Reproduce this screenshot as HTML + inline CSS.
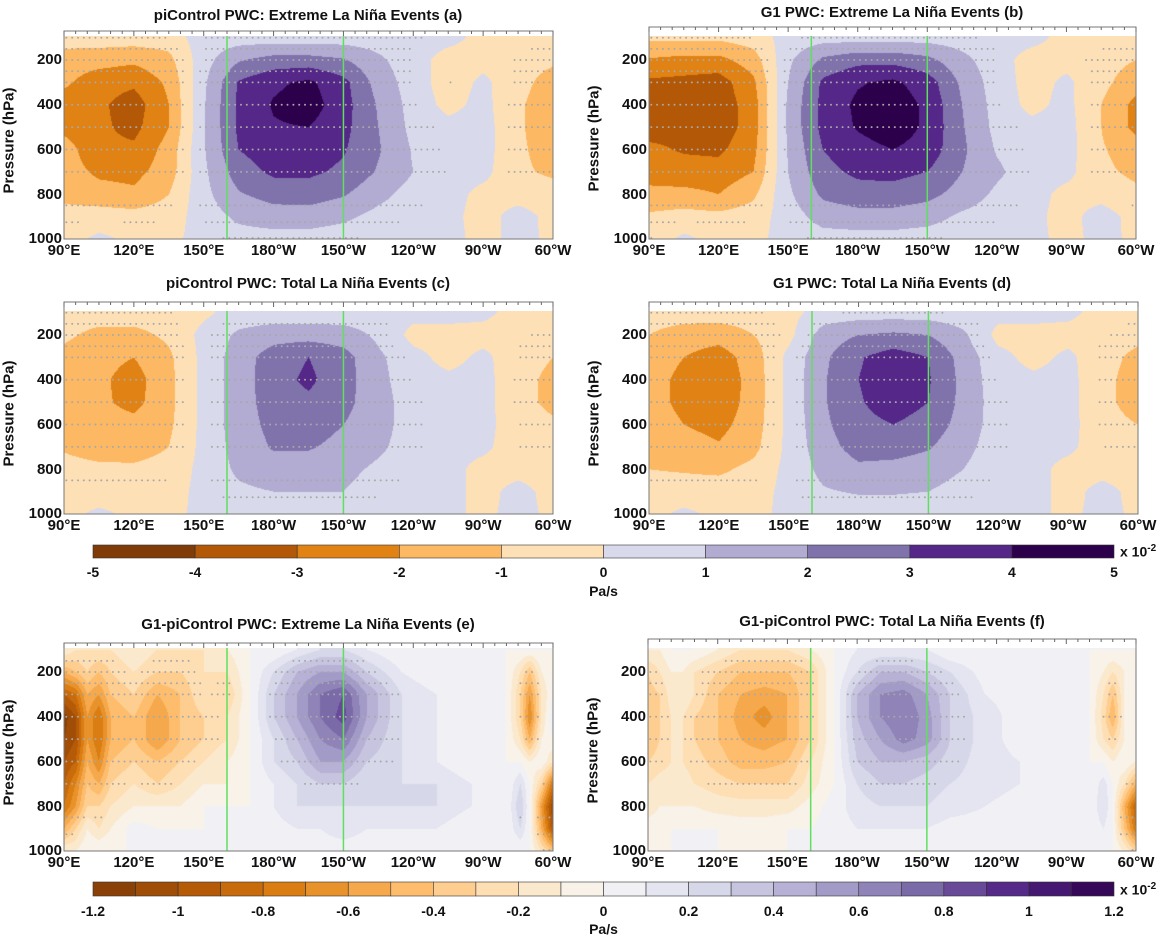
<!DOCTYPE html>
<html><head><meta charset="utf-8">
<style>
html,body{margin:0;padding:0;background:#fff;}
#root{position:relative;width:1172px;height:936px;overflow:hidden;font-family:"Liberation Sans",Arial,sans-serif;font-weight:bold;color:#111;}
.t{position:absolute;white-space:nowrap;}
canvas{position:absolute;}
svg{position:absolute;left:0;top:0;}
</style></head>
<body>
<div id="root">
<svg id="ov" width="1172" height="936"></svg>
</div>
<script>
// ---------- data ----------
const lonsTop = [90,105,120,135,150,165,180,195,210,225,240,255,270,285,300];
const lonsBot = [90,95,100,105,110,120,130,140,150,160,170,180,190,200,210,220,235,250,265,280,286,290,295,300];
const pLevels = [100,200,300,400,500,600,700,800,900,1000];
const xTickLons = [90,120,150,180,210,240,270,300];
const xTickLabels = ["90°E","120°E","150°E","180°W","150°W","120°W","90°W","60°W"];
const yTickVals = [200,400,600,800,1000];
const greenLons = [160,210];
const levelsTop = [-5,-4,-3,-2,-1,0,1,2,3,4,5];
const levelsBotLabels = [-1.2,-1,-0.8,-0.6,-0.4,-0.2,0,0.2,0.4,0.6,0.8,1,1.2];

const valsA = [
[-0.5,-0.5,-0.5,-0.5,0.5,0.5,0.5,0.5,0.5,0.5,0.5,0.3,-0.3,-0.3,-0.3],
[-1.5,-1.6,-1.8,-1.3,0.6,1.9,2.4,2.4,2.1,1.2,0.4,-0.4,-0.3,-0.5,-0.8],
[-1.8,-2.6,-2.8,-1.8,0.8,3.1,3.8,4.2,3.3,1.6,0.5,-0.5,0.2,-0.6,-1.5],
[-2.5,-2.8,-3.5,-2.0,0.9,3.2,4.1,4.5,3.4,1.9,0.6,-0.3,0.3,-0.8,-1.8],
[-2.3,-2.8,-3.3,-2.0,0.9,3.2,3.9,4.0,3.3,2.0,0.7,0.3,0.4,-0.8,-1.8],
[-1.5,-2.8,-2.8,-1.6,0.9,3.0,3.6,3.6,3.1,2.1,0.9,0.4,0.4,-0.8,-1.5],
[-1.5,-2.2,-2.3,-1.5,0.8,2.5,3.2,3.2,2.8,1.9,1.0,0.4,0.3,-0.8,-1.2],
[-1.3,-1.6,-1.8,-1.0,0.7,1.9,2.4,2.5,2.1,1.3,0.6,0.4,-0.3,-0.4,-0.5],
[-0.6,-0.5,-0.6,-0.5,0.5,1.2,1.5,1.5,1.2,0.7,0.4,0.3,-0.4,0.4,-0.3],
[-0.4,0.2,-0.2,-0.2,0.3,0.6,0.6,0.6,0.5,0.4,0.3,0.3,-0.3,0.3,-0.2]];
const valsB = [
[-0.8,-0.8,-0.8,-0.5,0.4,0.6,0.6,0.6,0.6,0.5,0.4,0.3,-0.3,-0.3,-0.3],
[-2.1,-2.3,-2.3,-1.5,0.8,2.2,2.7,2.7,2.3,1.3,0.4,-0.4,-0.3,-0.6,-1.0],
[-3.2,-3.3,-3.5,-2.2,1.0,3.2,3.9,4.2,3.5,1.8,0.5,-0.4,0.2,-0.7,-1.6],
[-3.4,-3.2,-3.6,-2.5,1.2,3.3,4.2,4.6,3.8,2.0,0.6,-0.3,0.3,-1.0,-2.3],
[-3.4,-3.2,-3.6,-2.5,1.2,3.3,4.1,4.6,3.8,2.1,0.7,0.3,0.4,-1.0,-2.3],
[-2.8,-3.1,-3.2,-2.3,1.1,3.0,3.6,4.0,3.6,2.2,0.9,0.4,0.4,-0.9,-1.5],
[-2.3,-2.6,-2.6,-2.0,1.0,2.7,3.2,3.3,3.0,2.0,1.2,0.4,0.3,-0.8,-1.2],
[-1.8,-1.7,-2.0,-1.2,0.8,2.2,2.6,2.6,2.3,1.6,0.8,0.4,-0.3,-0.4,-0.8],
[-0.8,-0.6,-0.7,-0.5,0.5,1.4,1.6,1.6,1.4,0.8,0.5,0.3,-0.4,0.5,-0.4],
[-0.5,0.2,-0.3,-0.2,0.3,0.6,0.6,0.6,0.5,0.4,0.3,0.3,-0.3,0.3,-0.2]];
const valsC = [
[-0.5,-0.5,-0.5,-0.5,-0.2,0.4,0.4,0.4,0.4,0.4,0.3,0.3,0.2,-0.3,-0.3],
[-0.8,-1.3,-1.3,-0.8,0.3,1.2,1.6,1.6,1.5,0.8,-0.3,-0.3,-0.3,-0.4,-0.6],
[-1.3,-1.7,-2.0,-1.2,0.3,1.5,2.5,3.0,2.4,1.2,0.3,-0.3,0.2,-0.5,-1.0],
[-1.5,-1.8,-2.4,-1.3,0.3,1.5,2.6,3.2,2.4,1.3,0.4,0.2,0.3,-0.6,-1.3],
[-1.4,-1.8,-2.3,-1.3,0.3,1.5,2.5,2.8,2.3,1.4,0.5,0.3,0.3,-0.6,-1.3],
[-1.3,-1.6,-1.7,-1.2,0.3,1.5,2.3,2.5,2.0,1.4,0.5,0.3,0.3,-0.5,-0.8],
[-1.1,-1.4,-1.5,-1.0,0.3,1.4,2.1,2.1,1.7,1.2,0.5,0.3,0.2,-0.5,-0.6],
[-0.7,-0.8,-0.8,-0.6,0.3,1.2,1.6,1.5,1.3,0.8,0.4,0.3,-0.3,-0.3,-0.4],
[-0.5,-0.5,-0.5,-0.4,0.3,0.8,1.0,1.0,1.0,0.5,0.3,0.3,-0.3,0.3,-0.3],
[-0.3,0.2,-0.2,-0.2,0.2,0.3,0.4,0.4,0.3,0.3,0.3,0.2,-0.2,0.3,-0.2]];
const valsD = [
[-0.5,-0.5,-0.5,-0.5,-0.3,0.4,0.5,0.5,0.5,0.4,0.3,0.3,0.2,-0.3,-0.3],
[-1.0,-1.5,-1.6,-1.0,-0.3,1.5,2.0,2.2,2.0,1.2,-0.3,-0.3,-0.3,-0.4,-0.7],
[-1.6,-2.0,-2.5,-1.5,0.3,1.8,2.9,3.5,3.0,1.6,0.3,-0.3,0.2,-0.6,-1.3],
[-1.7,-2.2,-2.7,-1.6,0.3,1.9,3.0,3.6,3.1,1.7,0.4,0.2,0.3,-0.7,-1.5],
[-1.7,-2.2,-2.6,-1.6,0.3,1.9,2.9,3.5,3.0,1.7,0.5,0.3,0.3,-0.7,-1.5],
[-1.6,-2.0,-2.3,-1.5,0.3,1.8,2.7,3.0,2.6,1.6,0.5,0.3,0.3,-0.6,-1.0],
[-1.3,-1.6,-1.9,-1.3,0.3,1.6,2.4,2.4,2.1,1.3,0.5,0.3,0.2,-0.5,-0.8],
[-1.0,-1.1,-1.2,-0.7,0.3,1.3,1.8,1.7,1.5,1.0,0.4,0.3,-0.3,-0.3,-0.5],
[-0.5,-0.5,-0.5,-0.4,0.3,0.9,1.1,1.1,1.0,0.6,0.3,0.3,-0.3,0.3,-0.3],
[-0.3,0.2,-0.2,-0.2,0.2,0.3,0.4,0.4,0.3,0.3,0.3,0.2,-0.2,0.3,-0.2]];
const valsE = [
[-0.1,-0.2,-0.2,-0.2,-0.2,-0.1,-0.2,-0.2,-0.2,-0.1,0,0,0.1,0.2,0.2,0.1,0,0,0,0,0,0,0,0],
[-0.5,-0.4,-0.3,-0.4,-0.3,-0.2,-0.3,-0.3,-0.2,-0.2,0,0.2,0.4,0.5,0.5,0.3,0.1,0,0.05,0,-0.2,-0.4,-0.1,0],
[-0.9,-0.8,-0.5,-0.6,-0.4,-0.3,-0.5,-0.4,-0.2,-0.3,0,0.3,0.5,0.7,0.8,0.5,0.2,0.1,0.1,0,-0.3,-0.6,-0.2,0],
[-1.15,-1.0,-0.6,-0.8,-0.5,-0.4,-0.6,-0.4,-0.3,-0.2,0,0.3,0.5,0.7,0.85,0.5,0.2,0.1,0.05,0,-0.3,-0.7,-0.2,0.1],
[-1.1,-1.0,-0.6,-0.8,-0.5,-0.4,-0.6,-0.4,-0.3,-0.2,0,0.2,0.4,0.6,0.7,0.4,0.2,0.1,0,0,-0.2,-0.5,-0.1,0],
[-1.0,-0.9,-0.5,-0.7,-0.4,-0.3,-0.4,-0.3,-0.2,-0.1,0,0.2,0.3,0.5,0.5,0.3,0.2,0.1,0,0,0,-0.1,0,-0.2],
[-0.9,-0.7,-0.4,-0.5,-0.3,-0.2,-0.3,-0.2,-0.1,-0.1,0,0.1,0.2,0.3,0.3,0.2,0.2,0.2,0.1,0,0.2,0,-0.3,-0.8],
[-0.8,-0.6,-0.3,-0.3,-0.2,-0.1,-0.1,-0.1,0,0,0,0.1,0.2,0.2,0.2,0.2,0.2,0.2,0.1,0,0.3,0,-0.6,-1.1],
[-0.5,-0.3,-0.1,-0.2,-0.1,0.05,0,0,0,0,0,0.05,0.1,0.1,0.2,0.1,0.1,0.1,0,0,0.2,0,-0.5,-1.0],
[-0.1,-0.1,0,0,0,0,0,0,0,0,0,0,0,0,0,0,0,0,0,0,0,0,-0.2,-0.4]];
const valsF = [
[-0.1,-0.1,0,0,0,-0.1,-0.2,-0.2,-0.2,-0.1,0,0.1,0.1,0.1,0.1,0,0,0,0,0,0,0,0,0],
[-0.3,-0.2,-0.1,-0.1,-0.2,-0.3,-0.4,-0.4,-0.4,-0.3,0,0.2,0.4,0.4,0.3,0.2,0.05,0,0,0,-0.1,-0.2,-0.1,0],
[-0.35,-0.3,-0.15,-0.1,-0.2,-0.4,-0.5,-0.55,-0.5,-0.3,0,0.4,0.6,0.65,0.5,0.3,0.1,0.05,0,0,-0.2,-0.4,-0.1,0],
[-0.4,-0.3,-0.2,-0.2,-0.3,-0.4,-0.55,-0.65,-0.5,-0.3,0,0.4,0.6,0.7,0.55,0.3,0.15,0.05,0,0,-0.25,-0.5,-0.1,0],
[-0.4,-0.3,-0.2,-0.2,-0.3,-0.4,-0.5,-0.55,-0.5,-0.3,0,0.35,0.5,0.65,0.55,0.3,0.15,0.05,0,0,-0.2,-0.3,-0.1,0],
[-0.3,-0.25,-0.2,-0.2,-0.25,-0.35,-0.45,-0.45,-0.4,-0.2,0,0.3,0.4,0.4,0.35,0.25,0.15,0.1,0,0,0,-0.1,0,-0.1],
[-0.2,-0.15,-0.15,-0.15,-0.2,-0.25,-0.3,-0.3,-0.3,-0.15,0,0.2,0.3,0.3,0.25,0.2,0.15,0.1,0,0,0.15,0,-0.2,-0.5],
[-0.15,-0.1,-0.1,-0.1,-0.1,-0.15,-0.15,-0.15,-0.15,-0.05,0.05,0.15,0.2,0.2,0.2,0.15,0.1,0.05,0,0,0.2,0,-0.5,-0.9],
[-0.05,-0.05,0,0,0,0,-0.05,-0.05,0,0,0.05,0.1,0.1,0.1,0.1,0.05,0.05,0,0,0,0.1,0,-0.4,-0.8],
[0,0,0,0,0,0,0,0,0,0,0,0,0,0,0,0,0,0,0,0,0,0,-0.1,-0.3]];

// ---------- styling ----------
const PUOR = ['#7f3b08','#b35806','#e08214','#fdb863','#fee0b6','#d8daeb','#b2abd2','#8073ac','#542788','#2d004b'];
const PUOR11 = ['#7f3b08','#b35806','#e08214','#fdb863','#fee0b6','#f7f7f7','#d8daeb','#b2abd2','#8073ac','#542788','#2d004b'];
function hex(h){return [parseInt(h.substr(1,2),16),parseInt(h.substr(3,2),16),parseInt(h.substr(5,2),16)];}
function interpPal(t){const s=t*10;const i=Math.min(9,Math.floor(s));const f=s-i;const a=hex(PUOR11[i]),b=hex(PUOR11[i+1]);return a.map((v,k)=>Math.round(v+(b[k]-v)*f));}
const palTop = PUOR.map(hex);
const palBot = []; for(let i=0;i<24;i++){palBot.push(interpPal((i+0.5)/24));}
function rgb(c){return 'rgb('+c.join(',')+')';}

const panels = [
 {id:'a',title:'piControl PWC: Extreme La Niña Events (a)',x0:64,x1:553,top:31,bot:239,lons:lonsTop,vals:valsA,kind:'top',tx:308,ty:16},
 {id:'b',title:'G1 PWC: Extreme La Niña Events (b)',x0:649,x1:1136,top:27,bot:239,lons:lonsTop,vals:valsB,kind:'top',tx:892,ty:13},
 {id:'c',title:'piControl PWC: Total La Niña Events (c)',x0:64,x1:553,top:302,bot:514,lons:lonsTop,vals:valsC,kind:'top',tx:308,ty:284},
 {id:'d',title:'G1 PWC: Total La Niña Events (d)',x0:649,x1:1138,top:302,bot:514,lons:lonsTop,vals:valsD,kind:'top',tx:892,ty:284},
 {id:'e',title:'G1-piControl PWC: Extreme La Niña Events (e)',x0:64,x1:553,top:643,bot:851,lons:lonsBot,vals:valsE,kind:'bot',tx:308,ty:625},
 {id:'f',title:'G1-piControl PWC: Total La Niña Events (f)',x0:648,x1:1136,top:639,bot:851,lons:lonsBot,vals:valsF,kind:'bot',tx:892,ty:622}
];
const K = 0.2237; // px per hPa
const root = document.getElementById('root');
const ov = document.getElementById('ov');
const NS = 'http://www.w3.org/2000/svg';
function svgEl(tag, attrs){const e=document.createElementNS(NS,tag);for(const k in attrs)e.setAttribute(k,attrs[k]);ov.appendChild(e);return e;}
function txt(s,x,y,size,align,name){const d=document.createElement('div');d.className='t';d.textContent=s;d.style.fontSize=size+'px';d.style.top=(y-size*0.58)+'px';
 d.style.left=x+'px';d.style.transform=align==='c'?'translateX(-50%)':(align==='r'?'translateX(-100%)':'none');
 
 
 root.appendChild(d);return d;}

function sample(P,lon,p){
 const L=P.lons; let i=0; while(i<L.length-2 && lon>L[i+1]) i++;
 let fx=(lon-L[i])/(L[i+1]-L[i]); fx=Math.max(0,Math.min(1,fx));
 let j=0; while(j<pLevels.length-2 && p>pLevels[j+1]) j++;
 let fy=(p-pLevels[j])/(pLevels[j+1]-pLevels[j]); fy=Math.max(0,Math.min(1,fy));
 const v=P.vals; const a=v[j][i],b=v[j][i+1],c=v[j+1][i],d=v[j+1][i+1];
 return a*(1-fx)*(1-fy)+b*fx*(1-fy)+c*(1-fx)*fy+d*fx*fy;
}
function colorFor(P,v){
 if(P.kind==='top'){let k=Math.floor(v+5);k=Math.max(0,Math.min(9,k));return palTop[k];}
 let k=Math.floor((v+1.2)/0.1+1e-9);k=Math.max(0,Math.min(23,k));return palBot[k];
}

panels.forEach(P=>{
 const w=P.x1-P.x0, xOf=lon=>P.x0+(lon-90)/210*w, yOf=p=>P.bot-(1000-p)*K;
 const yd=Math.round(yOf(100))-2;
 const cv=document.createElement('canvas');
 
 
 cv.width=w; cv.height=P.bot-yd; cv.style.left=P.x0+'px'; cv.style.top=yd+'px';
 const ctx=cv.getContext('2d'); const img=ctx.createImageData(cv.width,cv.height);
 for(let y=0;y<cv.height;y++){const p=1000-(cv.height-y-0.5)/K; for(let x=0;x<w;x++){const lon=90+(x+0.5)/w*210;const c=colorFor(P,sample(P,lon,p));const o=(y*w+x)*4;img.data[o]=c[0];img.data[o+1]=c[1];img.data[o+2]=c[2];img.data[o+3]=255;}}
 ctx.putImageData(img,0,0); root.insertBefore(cv,ov);
 const thr=P.kind==='top'?0.45:0.22;
 [100,150,200,250,300,400,500,600,700,850,925,1000].forEach(p=>{
  for(let lon=91;lon<300;lon+=2.5){const v=sample(P,lon,p); if(Math.abs(v)>thr){
   const c=svgEl('circle',{cx:xOf(lon).toFixed(1),cy:(yOf(p)-(p===1000?1:0)).toFixed(1),r:1,fill:'#a8a8a8'});
   
   }}
 });
 greenLons.forEach(l=>{const g=svgEl('line',{x1:xOf(l),x2:xOf(l),y1:yd,y2:P.bot,stroke:'#5ee05e','stroke-width':1.5});
  
  });
 const fr=svgEl('rect',{x:P.x0,y:P.top,width:w,height:P.bot-P.top,fill:'none',stroke:'#777','stroke-width':1});
 
 
 for(let l=90;l<=300;l+=5){const major=(l%30===0);const t=svgEl('line',{x1:xOf(l),x2:xOf(l),y1:P.top,y2:P.top+(major?5:3),stroke:'#666','stroke-width':1});
  
  }
 xTickLons.forEach((l,i)=>txt(xTickLabels[i],xOf(l),P.bot+12,15,'c','x-tick-label'));
 yTickVals.forEach(p=>txt(String(p),P.x0-2,yOf(p),15,'r','y-tick-label'));
 txt(P.title,P.tx,P.ty,15,'c','panel-title-'+P.id);
 const yt=txt('Pressure (hPa)',P.x0-55,(P.top+P.bot)/2+6,15,'c','y-axis-title');
 yt.style.transform='translate(-50%,0) rotate(-90deg)';
});

function colorbar(y0,y1,pal,labels,labelVals,vmin,vmax,nb,name,ly,pay){
 const x0=93,x1=1114,w=x1-x0;
 for(let i=0;i<nb;i++){const r=svgEl('rect',{x:x0+i*w/nb,y:y0,width:w/nb,height:y1-y0,fill:rgb(pal[i]),stroke:'#333','stroke-width':0.6});
  
  }
 labelVals.forEach((v,i)=>txt(labels[i],x0+(v-vmin)/(vmax-vmin)*w,ly,14,'c',name+'-label'));
 txt('Pa/s',(x0+x1)/2,pay,14,'c',name+'-unit');
 const xs=txt('x 10',x1+6,(y0+y1)/2,14,'l',name+'-scale');
 const sp=document.createElement('sup');sp.textContent='-2';sp.style.fontSize='10px';xs.appendChild(sp);
}
colorbar(545,558,palTop,levelsTop.map(String),levelsTop,-5,5,10,'colorbar-top',572,591);
colorbar(882,896,palBot,levelsBotLabels.map(String),levelsBotLabels,-1.2,1.2,24,'colorbar-bottom',911,929);
</script>
</body></html>
